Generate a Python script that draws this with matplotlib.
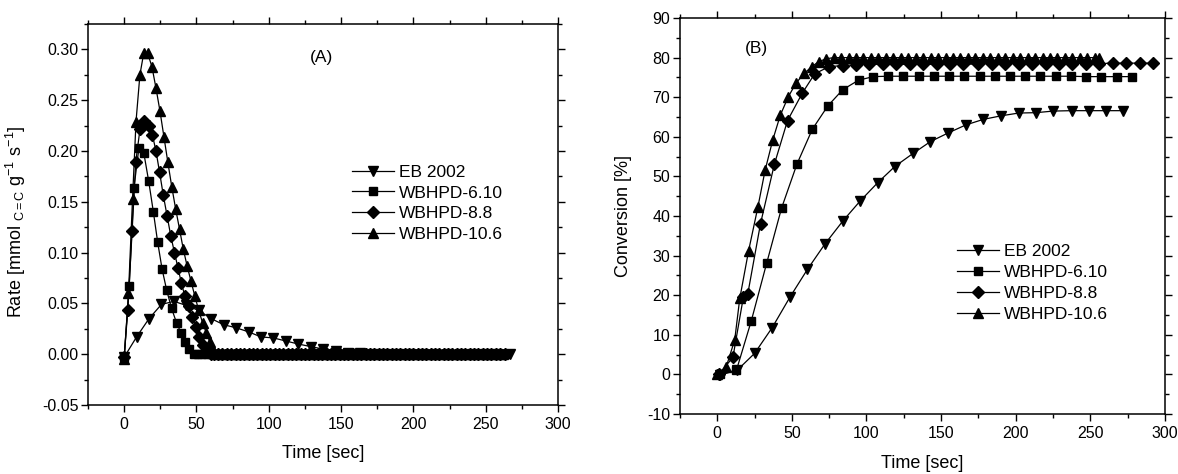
import matplotlib
matplotlib.use("Agg")
import matplotlib.pyplot as plt
from matplotlib.ticker import MultipleLocator

plt.rcParams["font.family"] = ["Liberation Sans", "DejaVu Sans"]
plt.rcParams["mathtext.fontset"] = "custom"
plt.rcParams["mathtext.rm"] = "Liberation Sans"
plt.rcParams["mathtext.it"] = "Liberation Sans:italic"
plt.rcParams["axes.unicode_minus"] = False

LABELS = ["EB 2002", "WBHPD-6.10", "WBHPD-8.8", "WBHPD-10.6"]
MARKERS = ["v", "s", "D", "^"]
MSIZES = [7, 5.5, 6, 7]

# ---- panel A: rate vs time ----
eb_rate_t = [0, 8.6, 17.2, 25.8, 34.4, 43, 51.6, 60.2, 68.8, 77.4, 86, 94.6, 103.2,
             111.8, 120.4, 129, 137.6, 146.2, 154.8, 163.4, 172, 180.6, 189.2, 197.8,
             206.4, 215, 223.6, 232.2, 240.8, 249.4, 258, 266.6]
eb_rate = [-0.003, 0.017, 0.035, 0.049, 0.052, 0.048, 0.043, 0.035, 0.029, 0.026, 0.022,
           0.017, 0.016, 0.013, 0.010, 0.0075, 0.005, 0.0036, 0.0013, 0.0007, 0.0003,
           0, 0, 0, 0, 0, 0, 0, 0, 0, 0, 0]

w610_rate_t = [0, 3.5, 6.8, 10.2, 13.6, 17, 20.2, 23.2, 26.2, 29.4, 32.8, 36.2, 39.3,
               42.2, 45, 48,
               51, 54, 57, 60, 63, 66, 69, 72, 75, 78, 81, 84, 87, 90, 93, 96, 99, 102,
               105, 108, 111, 114, 117, 120, 123, 126, 129, 132, 135, 138, 141, 144,
               147, 150, 153, 156, 159, 162, 165, 168, 171, 174, 177, 180, 183, 186,
               189, 192, 195, 198, 201, 204, 207, 210, 213, 216, 219, 222, 225, 228,
               231, 234, 237, 240, 243, 246, 249, 252, 255, 258, 261, 264]
w610_rate = [-0.003, 0.067, 0.164, 0.203, 0.198, 0.170, 0.140, 0.110, 0.084, 0.063,
             0.045, 0.031, 0.021, 0.012, 0.005, 0.0] + [0.0] * 72

w88_rate_t = [0, 2.5, 5.5, 8, 11, 14, 17, 19.5, 22, 24.5, 27, 29.7, 32.3, 34.8, 37.2,
              39.6, 42, 44.5, 47, 49.5, 52, 54.7, 57.3, 60,
              62, 65, 68, 71, 74, 77, 80, 83, 86, 89, 92, 95, 98, 101, 104, 107, 110,
              113, 116, 119, 122, 125, 128, 131, 134, 137, 140, 143, 146, 149, 152,
              155, 158, 161, 164, 167, 170, 173, 176, 179, 182, 185, 188, 191, 194,
              197, 200, 203, 206, 209, 212, 215, 218, 221, 224, 227, 230, 233, 236,
              239, 242, 245, 248, 251, 254, 257, 260, 263]
w88_rate = [-0.003, 0.043, 0.121, 0.189, 0.222, 0.230, 0.225, 0.216, 0.200, 0.179,
            0.157, 0.136, 0.116, 0.100, 0.085, 0.070, 0.057, 0.047, 0.037, 0.027,
            0.017, 0.009, 0.003, 0.0] + [0.0] * 68

w106_rate_t = [0, 3, 5.8, 8.2, 10.9, 13.5, 16.3, 19.2, 22, 24.8, 27.5, 30.2, 32.9,
               35.6, 38.3, 40.8, 43.5, 46.2, 48.9, 51.6, 54.2, 56.8, 59.3, 61.5, 64,
               67, 70, 73, 76, 79, 82, 85, 88, 91, 94, 97, 100, 103, 106, 109, 112,
               115, 118, 121, 124, 127, 130, 133, 136, 139, 142, 145, 148, 151, 154,
               157, 160, 163, 166, 169, 172, 175, 178, 181, 184, 187, 190, 193, 196,
               199, 202, 205, 208, 211, 214, 217, 220, 223, 226, 229, 232, 235, 238,
               241, 244, 247, 250, 253, 256, 259, 262]
w106_rate = [-0.005, 0.060, 0.153, 0.229, 0.275, 0.296, 0.296, 0.283, 0.262, 0.239,
             0.214, 0.189, 0.165, 0.143, 0.123, 0.104, 0.087, 0.072, 0.057, 0.043,
             0.031, 0.021, 0.012, 0.004, 0.0] + [0.0] * 66

# ---- panel B: conversion vs time ----
eb_conv_t = [1.8, 13.5, 25, 36.8, 48.7, 60.4, 72.1, 84.3, 95.8, 107.5, 119, 131.2,
             142.9, 154.9, 166.6, 178.3, 190.2, 202, 213.7, 225.2, 237.4, 248.9,
             260.6, 272]
eb_conv = [-0.2, 1.1, 5.3, 11.8, 19.5, 26.5, 32.9, 38.8, 43.8, 48.4, 52.5, 55.8, 58.8,
           61.0, 63.0, 64.4, 65.3, 66.0, 66.1, 66.5, 66.6, 66.6, 66.6, 66.6]

w610_conv_t = [2, 12.9, 22.8, 33.2, 43.1, 53.4, 63.7, 74.1, 84.1, 94.7, 104.6, 114.6,
               124.8, 135, 145.2, 155.4, 165.6, 175.8, 186, 196.2, 206.4, 216.6,
               226.8, 237, 247.2, 257.4, 267.6, 277.8]
w610_conv = [0, 1.1, 13.5, 28.2, 42.0, 53.1, 61.9, 67.8, 71.9, 74.3, 75.2, 75.3, 75.3,
             75.3, 75.3, 75.3, 75.3, 75.3, 75.3, 75.3, 75.3, 75.3, 75.3, 75.3, 75.2,
             75.2, 75.2, 75.2]

w88_conv_t = [1, 10.5, 17.5, 20.5, 29, 38.3, 47.1, 57.1, 65.3, 74.8, 84, 93, 102, 111,
              120, 129, 138, 147, 156, 165, 175, 184, 193, 202, 211, 220, 229, 238,
              247, 256, 265, 274, 283, 292]
w88_conv = [0, 4.3, 19.5, 20.4, 38.1, 53.1, 64.1, 71.1, 75.9, 77.7, 78.0, 78.2, 78.3,
            78.3, 78.3, 78.3, 78.3, 78.3, 78.3, 78.3, 78.4, 78.4, 78.4, 78.4, 78.4,
            78.5, 78.5, 78.5, 78.5, 78.5, 78.6, 78.6, 78.6, 78.6]

w106_conv_t = [0, 6, 11.7, 15.1, 21, 27.2, 32.1, 37.2, 42.3, 47.6, 52.7, 58.2, 63.3,
               68.1, 73, 78, 83, 88, 93, 98, 103, 108, 113, 118, 123, 128, 133, 138,
               143, 148, 153, 158, 163, 168, 173, 178, 183, 188, 193, 198, 203, 208,
               213, 218, 223, 228, 233, 238, 243, 248, 253, 256]
w106_conv = [0, 1.9, 8.7, 19.2, 31.2, 42.2, 51.6, 59.2, 65.5, 70.1, 73.5, 76.0, 77.7,
             79.0, 79.7, 80.0, 80.0, 80.0, 80.0, 80.0, 80.0, 80.0, 80.0, 80.0, 80.0,
             80.0, 80.0, 80.0, 80.0, 80.0, 80.0, 80.0, 80.0, 80.0, 80.0, 80.0, 80.0,
             80.0, 80.0, 80.0, 80.0, 80.0, 80.0, 80.0, 80.0, 80.0, 80.0, 80.0, 80.0,
             80.0, 80.0, 80.0]

rate_series = [(eb_rate_t, eb_rate), (w610_rate_t, w610_rate),
               (w88_rate_t, w88_rate), (w106_rate_t, w106_rate)]
conv_series = [(eb_conv_t, eb_conv), (w610_conv_t, w610_conv),
               (w88_conv_t, w88_conv), (w106_conv_t, w106_conv)]


def style_axes(ax):
    for sp in ax.spines.values():
        sp.set_linewidth(1.1)
    ax.tick_params(which="both", direction="out", top=True, right=True,
                   labeltop=False, labelright=False, width=1.0, labelsize=11.5)
    ax.tick_params(which="major", length=5)
    ax.tick_params(which="minor", length=3)
    ax.tick_params(axis="x", pad=3.5)
    ax.tick_params(axis="y", pad=2)


fig = plt.figure(figsize=(11.78, 4.74), dpi=100)
axA = fig.add_axes([0.0747, 0.1456, 0.399, 0.8038])
axB = fig.add_axes([0.5772, 0.1266, 0.4117, 0.8354])

for (t, v), lab, m, ms in zip(rate_series, LABELS, MARKERS, MSIZES):
    axA.plot(t, v, color="black", lw=0.9, marker=m, ms=ms, mfc="black",
             mec="black", label=lab)
for (t, v), lab, m, ms in zip(conv_series, LABELS, MARKERS, MSIZES):
    axB.plot(t, v, color="black", lw=0.9, marker=m, ms=ms, mfc="black",
             mec="black", label=lab)

axA.set_xlim(-25, 300)
axA.set_ylim(-0.05, 0.325)
axA.xaxis.set_major_locator(MultipleLocator(50))
axA.xaxis.set_minor_locator(MultipleLocator(25))
axA.yaxis.set_major_locator(MultipleLocator(0.05))
axA.yaxis.set_minor_locator(MultipleLocator(0.025))
axA.yaxis.set_major_formatter(plt.FuncFormatter(lambda v, p: f"{v:.2f}"))
style_axes(axA)
axA.set_xlabel("Time [sec]", fontsize=13)
axA.set_ylabel(r"Rate [mmol $_{\mathrm{C=C}}$ g$^{\mathrm{-1}}$ s$^{\mathrm{-1}}$]",
               fontsize=13)
axA.xaxis.set_label_coords(0.5, -0.105)
axA.yaxis.set_label_coords(-0.128, 0.48)
axA.text(0.497, 0.912, "(A)", transform=axA.transAxes, fontsize=12.5,
         ha="center", va="center")
axA.legend(loc="center left", bbox_to_anchor=(0.562, 0.529), frameon=False,
           fontsize=12.5, borderpad=0, borderaxespad=0, handlelength=2.4,
           handletextpad=0.3, labelspacing=0.33)

axB.set_xlim(-25, 300)
axB.set_ylim(-10, 90)
axB.xaxis.set_major_locator(MultipleLocator(50))
axB.xaxis.set_minor_locator(MultipleLocator(25))
axB.yaxis.set_major_locator(MultipleLocator(10))
axB.yaxis.set_minor_locator(MultipleLocator(5))
style_axes(axB)
axB.set_xlabel("Time [sec]", fontsize=13)
axB.set_ylabel("Conversion [%]", fontsize=13)
axB.xaxis.set_label_coords(0.5, -0.104)
axB.yaxis.set_label_coords(-0.099, 0.5)
axB.text(0.157, 0.924, "(B)", transform=axB.transAxes, fontsize=12.5,
         ha="center", va="center")
axB.legend(loc="center left", bbox_to_anchor=(0.571, 0.331), frameon=False,
           fontsize=12.5, borderpad=0, borderaxespad=0, handlelength=2.4,
           handletextpad=0.3, labelspacing=0.33)

fig.savefig("out.png", dpi=100)
